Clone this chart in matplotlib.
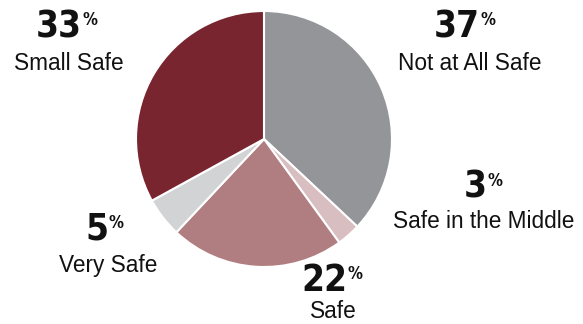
import matplotlib
matplotlib.use("Agg")
import matplotlib.pyplot as plt

# data, clockwise from 12 o'clock
labels = ["Not at All Safe", "Safe in the Middle", "Safe", "Very Safe", "Small Safe"]
values = [37, 3, 22, 5, 33]
colors = ["#939598", "#d8bec1", "#b07d81", "#d1d3d4", "#79252f"]

# label layout in pixels: (x where number ends, number baseline, label centre x, label baseline)
spots = [(480, 37, 470, 70), (487, 198, 484, 228), (347, 291, 333, 318),
         (108, 240, 108, 272), (82, 37, 69, 70)]

W, H = 583, 324
fig = plt.figure(figsize=(W / 100, H / 100), dpi=100)

# pie
cx, cy, r = 264, 139, 128
ax = fig.add_axes([(cx - r) / W, (H - cy - r) / H, 2 * r / W, 2 * r / H])
ax.pie(values, colors=colors, startangle=90, counterclock=False,
       wedgeprops=dict(edgecolor="white", linewidth=1.5))
ax.set_xlim(-1, 1)
ax.set_ylim(-1, 1)
ax.set_aspect("equal")
ax.axis("off")

# text layer
tx = fig.add_axes([0, 0, 1, 1])
tx.set_xlim(0, W)
tx.set_ylim(H, 0)
tx.axis("off")

for lab, v, (nx, ny, lx, ly) in zip(labels, values, spots):
    tx.text(nx, ny, str(v), ha="right", va="baseline", fontsize=26.5,
            fontweight="bold", family="DejaVu Sans", fontstretch="condensed",
            color="#111111")
    tx.text(nx + 0.5, ny - 12, "%", ha="left", va="baseline", fontsize=12,
            fontweight="bold", family="DejaVu Sans", fontstretch="condensed",
            color="#111111")
    tx.text(lx, ly, lab, ha="center", va="baseline", fontsize=16.3,
            family="Liberation Sans", color="#111111")

fig.savefig("out.png", dpi=100)
